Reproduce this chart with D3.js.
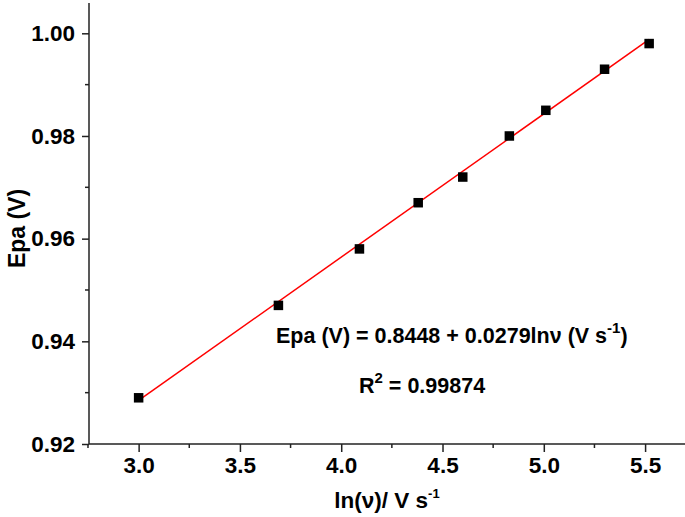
<!DOCTYPE html>
<html>
<head>
<meta charset="utf-8">
<script src="https://cdn.jsdelivr.net/npm/d3@7/dist/d3.min.js"></script>
<style>
  html, body { margin: 0; padding: 0; background: #fff; }
  svg { display: block; }
  text { font-family: "Liberation Sans", Arial, sans-serif; font-weight: bold; fill: #000; }
</style>
</head>
<body>
<svg id="chart" width="685" height="517"></svg>
<script>
// ---- data ----
const lnScanRate = [3.00, 3.69, 4.09, 4.38, 4.60, 4.83, 5.01, 5.30, 5.52];
const epa        = [0.929, 0.947, 0.958, 0.967, 0.972, 0.980, 0.985, 0.993, 0.998];
const fitParams  = [0.8448, 0.0279]; // intercept, slope
const xTicks     = [3.0, 3.5, 4.0, 4.5, 5.0, 5.5];
const yTicks     = [0.92, 0.94, 0.96, 0.98, 1.00];

(function () {
const svg = d3.select("#chart");
const pL = 89, pR = 685, pT = 3, pB = 444;

const x = d3.scaleLinear().domain([2.755, 5.697]).range([pL, pR]);
const pxPerUnit = 410.7 / 0.08;
const y = d3.scaleLinear().domain([0.92, 0.92 + (pB - pT) / pxPerUnit]).range([pB, pT]);

// ---- axes ----
const xMinor = d3.range(2.75, 5.71, 0.25).filter(v => !xTicks.some(t => Math.abs(t - v) < 1e-6));
const yMinor = d3.range(0.93, 1.0, 0.02);

const gx = svg.append("g").attr("transform", `translate(0,${pB})`);
gx.call(d3.axisBottom(x).tickValues(xTicks).tickSize(8).tickPadding(5).tickFormat(d3.format(".1f")));
gx.select(".domain").attr("d", `M${pL},0H${pR}`);
gx.append("g").selectAll("line").data(xMinor).join("line")
  .attr("x1", d => x(d)).attr("x2", d => x(d)).attr("y1", 0).attr("y2", 4)
  .attr("stroke", "#222").attr("stroke-width", 1.5);

const gy = svg.append("g").attr("transform", `translate(${pL},0)`);
gy.call(d3.axisLeft(y).tickValues(yTicks).tickSize(7).tickPadding(7).tickFormat(d3.format(".2f")));
gy.select(".domain").attr("d", `M0,${pT}V${pB}`);
gy.append("g").selectAll("line").data(yMinor).join("line")
  .attr("x1", 0).attr("x2", -4).attr("y1", d => y(d)).attr("y2", d => y(d))
  .attr("stroke", "#222").attr("stroke-width", 1.5);

svg.selectAll(".domain, .tick line").attr("stroke", "#222").attr("stroke-width", 1.5);
svg.selectAll(".tick text").style("font-size", "22.5px").style("font-family", "'Liberation Sans', Arial, sans-serif").style("font-weight", "bold").attr("fill", "#000");

// ---- fit line ----
const xExt = d3.extent(lnScanRate);
const line = d3.line().x(d => x(d)).y(d => y(fitParams[0] + fitParams[1] * d));
svg.append("path").datum(xExt).attr("d", line)
  .attr("stroke", "#ff0000").attr("stroke-width", 1.5).attr("fill", "none");

// ---- points ----
const s = 9.5;
svg.append("g").selectAll("rect").data(lnScanRate.map((v, i) => [v, epa[i]])).join("rect")
  .attr("x", d => x(d[0]) - s / 2).attr("y", d => y(d[1]) - s / 2)
  .attr("width", s).attr("height", s).attr("fill", "#000");

// ---- axis titles ----
const xt = svg.append("text").attr("x", (pL + pR) / 2).attr("y", 508)
  .attr("text-anchor", "middle").style("font-size", "22.5px");
xt.append("tspan").text("ln(ν)/ V s");
xt.append("tspan").text("-1").attr("dy", -10).style("font-size", "13px");

svg.append("text").attr("transform", `translate(25,${(pT + pB) / 2 + 5}) rotate(-90)`)
  .attr("text-anchor", "middle").style("font-size", "23px").text("Epa (V)");

// ---- equation ----
const eq = svg.append("text").attr("x", 276).attr("y", 343).style("font-size", "21.5px");
eq.append("tspan").text("Epa (V) = 0.8448 + 0.0279lnν (V s");
eq.append("tspan").text("-1").attr("dy", -10).style("font-size", "15px");
eq.append("tspan").text(")").attr("dy", 10);

const r2 = svg.append("text").attr("x", 359).attr("y", 393).style("font-size", "21.5px");
r2.append("tspan").text("R");
r2.append("tspan").text("2").attr("dy", -10).style("font-size", "15px");
r2.append("tspan").text(" = 0.99874").attr("dy", 10);
})();
</script>
</body>
</html>
